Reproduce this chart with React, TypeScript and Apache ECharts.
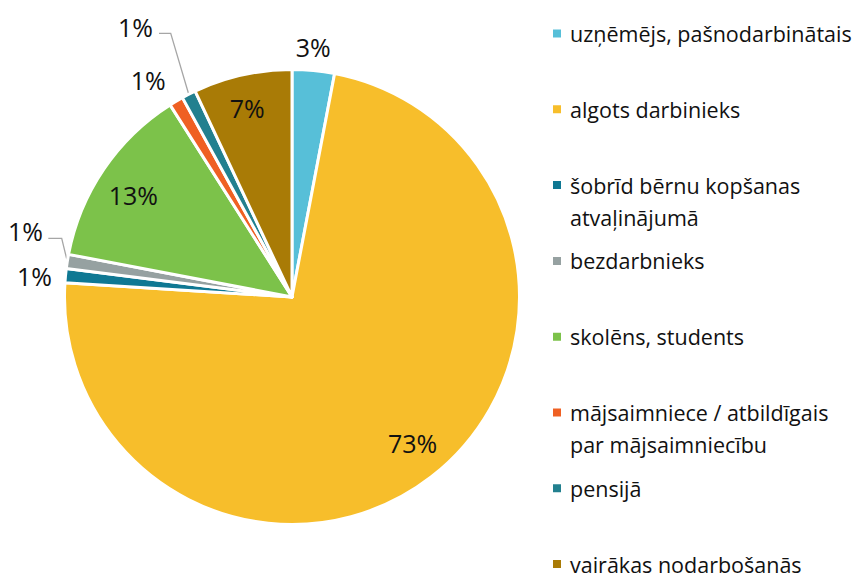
import React, { useEffect, useRef } from "react";
import * as echarts from "echarts";

const categories = [
  "uzņēmējs, pašnodarbinātais",
  "algots darbinieks",
  "šobrīd bērnu kopšanas\natvaļinājumā",
  "bezdarbnieks",
  "skolēns, students",
  "mājsaimniece / atbildīgais\npar mājsaimniecību",
  "pensijā",
  "vairākas nodarbošanās",
];
const shares = [3, 73, 1, 1, 13, 1, 1, 7];
const sliceColors = [
  "#57BFD8",
  "#F7BE2B",
  "#0F7893",
  "#96A1A1",
  "#7CC24A",
  "#EF6023",
  "#22808F",
  "#A97B06",
];
// where each percentage label sits
const labelPlacement = ["rim", "inside", "rim", "leader", "inside", "rim", "leader", "inside"];

const FONT = "'Open Sans', 'Noto Sans', sans-serif";
const CENTER = [292, 297];
const RADIUS = 227.5;
const TEXT_COLOR = "#111111";

// small layout tweaks for labels (pixels)
const labelNudge: Record<number, [number, number]> = {
  0: [-3, 6],
  1: [3, -6],
  2: [-2, 3],
  4: [0, 6],
  5: [-13, 4],
  7: [-3, -2],
};
const leaderShape: Record<number, { bend: [number, number]; run: number; text: [number, number] }> = {
  3: { bend: [-5.6, -23], run: 13.4, text: [-5.3, -7.8] },
  6: { bend: [-18, -61], run: 11.7, text: [-6, -6.3] },
};

const LEGEND_LEFT = 551;
const LEGEND_FIRST = 33.5;
const LEGEND_STEP = 75.8;
const LEGEND_LINE = 32;

export default function App() {
  const ref = useRef<HTMLDivElement>(null);
  useEffect(() => {
    if (!ref.current) return;
    const chart = echarts.init(ref.current, undefined, { renderer: "svg" });
    const pct = (p: any) => `${p.value}%`;
    const baseLabel = { fontFamily: FONT, fontSize: 25, color: TEXT_COLOR };
    const nudgeLayout = (p: any) => {
      const n = labelNudge[p.dataIndex];
      if (!n) return {};
      const r = p.labelRect;
      return {
        x: r.x + r.width / 2 + n[0],
        y: r.y + r.height / 2 + n[1],
        align: "center",
        verticalAlign: "middle",
      };
    };

    const legends = categories.map((name, i) => {
      const twoLine = name.includes("\n");
      const c = LEGEND_FIRST + LEGEND_STEP * i;
      const half = twoLine ? LEGEND_LINE * 1.5 : LEGEND_LINE / 2;
      return {
        orient: "vertical",
        left: LEGEND_LEFT,
        top: c - half,
        padding: 0,
        itemWidth: 10,
        itemHeight: 10,
        itemGap: 0,
        icon: "rect",
        selectedMode: false,
        data: [{ name }],
        // an empty first line keeps the marker level with the first text line
        formatter: (n: string) => (twoLine ? "\n" + n : n),
        textStyle: {
          fontFamily: FONT,
          fontSize: 21.5,
          color: TEXT_COLOR,
          lineHeight: LEGEND_LINE,
          padding: [0, 0, 0, 3],
        },
      };
    });

    const option: any = {
      animation: false,
      backgroundColor: "#ffffff",
      legend: legends,
      series: [
        {
          type: "pie",
          center: CENTER,
          radius: RADIUS,
          startAngle: 90,
          clockwise: true,
          avoidLabelOverlap: false,
          emphasis: { disabled: true },
          itemStyle: { borderColor: "#ffffff", borderWidth: 3 },
          label: { ...baseLabel, position: "outside", formatter: pct, distanceToLabelLine: 5 },
          labelLine: {
            show: true,
            length: 10,
            length2: 10,
            lineStyle: { color: "#A6A6A6", width: 1.3 },
          },
          labelLayout: (p: any) => {
            const shape = leaderShape[p.dataIndex];
            const pts = p.labelLinePoints;
            if (!shape || !pts) return {};
            const [x0, y0] = pts[0];
            const x1 = x0 + shape.bend[0];
            const y1 = y0 + shape.bend[1];
            const x2 = x1 - shape.run;
            return {
              x: x2 + shape.text[0],
              y: y1 + shape.text[1],
              align: "right",
              verticalAlign: "middle",
              labelLinePoints: [
                [x0, y0],
                [x1, y1],
                [x2, y1],
              ],
            };
          },
          data: categories.map((name, i) => ({
            name,
            value: shares[i],
            itemStyle: { color: sliceColors[i] },
            label: { show: labelPlacement[i] === "leader" },
            labelLine: { show: labelPlacement[i] === "leader" },
          })),
        },
        {
          type: "pie",
          center: CENTER,
          radius: [150, RADIUS],
          startAngle: 90,
          clockwise: true,
          silent: true,
          avoidLabelOverlap: false,
          emphasis: { disabled: true },
          itemStyle: { color: "rgba(0,0,0,0)", borderWidth: 0 },
          label: { ...baseLabel, position: "inside", formatter: pct },
          labelLine: { show: false },
          labelLayout: nudgeLayout,
          data: categories.map((name, i) => ({
            name,
            value: shares[i],
            label: { show: labelPlacement[i] === "inside" },
          })),
        },
        {
          type: "pie",
          center: CENTER,
          radius: [RADIUS, 280],
          startAngle: 90,
          clockwise: true,
          silent: true,
          avoidLabelOverlap: false,
          emphasis: { disabled: true },
          itemStyle: { color: "rgba(0,0,0,0)", borderWidth: 0 },
          label: { ...baseLabel, position: "inside", formatter: pct },
          labelLine: { show: false },
          labelLayout: nudgeLayout,
          data: categories.map((name, i) => ({
            name,
            value: shares[i],
            label: { show: labelPlacement[i] === "rim" },
          })),
        },
      ],
    };
    chart.setOption(option);
    return () => chart.dispose();
  }, []);
  return (
    <div
      ref={ref}
      style={{ position: "absolute", left: 0, top: 0, width: 864, height: 573 }}
    />
  );
}
